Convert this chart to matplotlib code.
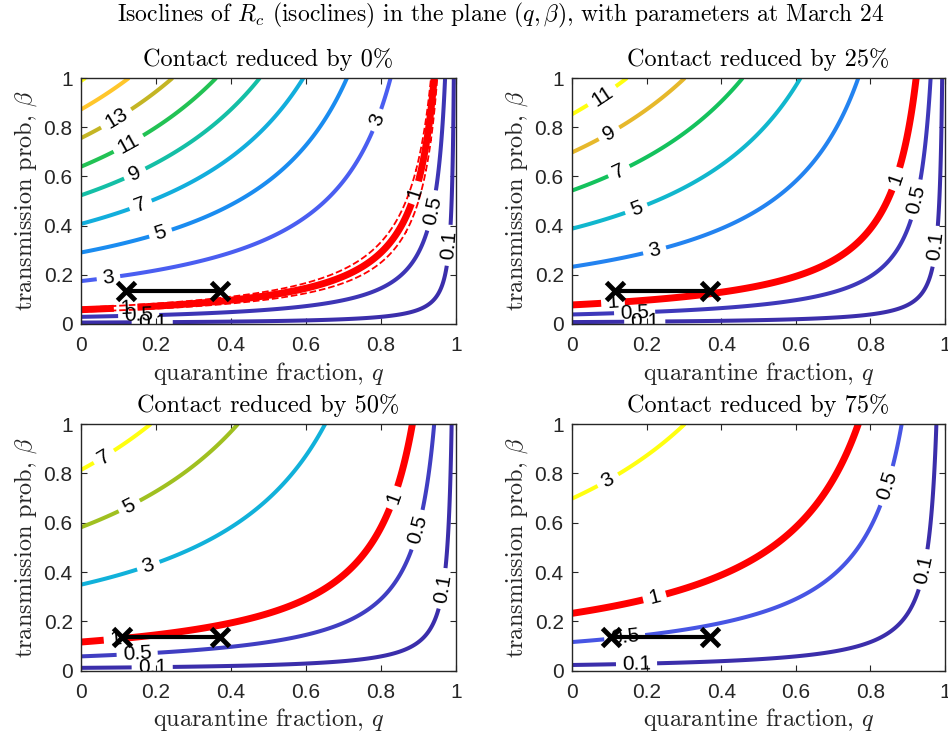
import numpy as np
import matplotlib.pyplot as plt
from matplotlib.colors import LinearSegmentedColormap

plt.rcParams['mathtext.fontset'] = 'cm'
plt.rcParams['font.family'] = ['Liberation Sans', 'DejaVu Sans']

# ---- data ----
reduction = [0, 25, 50, 75]            # contact reduction in %
contact = [1.0, 0.75, 0.5, 0.25]       # remaining contact fraction
R_scale = 17.2                         # R_c at q=0, beta=1, no reduction
R_scale_lo = 15.0                      # dashed bounds of R_c = 1 (first panel)
R_scale_hi = 20.0
levels_all = [0.1, 0.5, 1, 3, 5, 7, 9, 11, 13, 15, 17]

# current estimate segment (q range, beta)
seg_q = [[0.12, 0.37], [0.115, 0.37], [0.11, 0.37], [0.105, 0.37]]
seg_beta = [0.135, 0.135]

# where the contour labels sit (q, beta)
label_pos = [
    [(0.096, 0.83), (0.123, 0.743), (0.145, 0.607), (0.159, 0.485), (0.212, 0.37),
     (0.074, 0.18), (0.788, 0.83), (0.90, 0.53), (0.94, 0.46), (0.98, 0.32),
     (0.119, 0.07), (0.154, 0.03), (0.19, 0.005)],
    [(0.079, 0.93), (0.101, 0.77), (0.128, 0.614), (0.173, 0.465), (0.222, 0.295),
     (0.875, 0.587), (0.924, 0.505), (0.973, 0.316),
     (0.11, 0.08), (0.168, 0.038), (0.195, 0.004)],
    [(0.061, 0.868), (0.132, 0.658), (0.181, 0.42), (0.837, 0.70), (0.90, 0.57),
     (0.962, 0.334), (0.092, 0.13), (0.15, 0.064), (0.19, 0.01)],
    [(0.097, 0.77), (0.222, 0.294), (0.845, 0.749), (0.944, 0.41),
     (0.142, 0.125), (0.173, 0.023)],
]

# MATLAB-like colour ramp seen in the figure
ramp = LinearSegmentedColormap.from_list('ramp', [
    (0.00, '#3b2eab'), (0.17, '#4a5ef2'), (0.29, '#1a8cf0'), (0.43, '#10b4d8'),
    (0.53, '#14c0a4'), (0.64, '#14c25a'), (0.71, '#a0c020'), (0.77, '#c8b424'),
    (0.86, '#ffbb30'), (1.00, '#ffff10')])

positions = [[0.0854, 0.5598, 0.3956, 0.3342], [0.6034, 0.5598, 0.3935, 0.3342],
             [0.0854, 0.0887, 0.3956, 0.3352], [0.6034, 0.0887, 0.3935, 0.3352]]

q = np.linspace(0, 1, 1501)
b = np.linspace(0, 1, 1001)
Q, B = np.meshgrid(q, b)

serif = ['cmr10', 'DejaVu Serif']

fig = plt.figure(figsize=(9.48, 7.36), dpi=100)
fig.text(0.528, 1 - 15/736,
         r'Isoclines of $R_c$ (isoclines) in the plane $(q,\beta)$, with parameters at March 24',
         ha='center', va='center', fontsize=17, family=serif)

for k in range(4):
    ax = fig.add_axes(positions[k])
    Z = R_scale * contact[k] * B * (1 - Q)
    lev = [l for l in levels_all if l <= Z.max()]
    cols, lws = [], []
    for l in lev:
        if l == 1:
            cols.append('red'); lws.append(5.0)
        else:
            cols.append(ramp((l - lev[0]) / (lev[-1] - lev[0]))); lws.append(2.9)
    cs = ax.contour(Q, B, Z, levels=lev, colors=cols, linewidths=lws)
    ax.clabel(cs, fmt='%g', fontsize=15, colors='black', inline=True,
              inline_spacing=6, manual=label_pos[k])
    if k == 0:
        for rs in [R_scale_lo, R_scale_hi]:
            ax.contour(Q, B, rs * B * (1 - Q), levels=[1], colors='red',
                       linewidths=1.3, linestyles='--')
    ax.plot(seg_q[k], seg_beta, '-x', color='black', lw=3, ms=13, mew=3.5, zorder=5)

    ax.set_xlim(0, 1)
    ax.set_ylim(0, 1)
    ax.set_xticks(np.arange(0, 1.01, 0.2))
    ax.set_yticks(np.arange(0, 1.01, 0.2))
    ax.set_xticklabels(['0', '0.2', '0.4', '0.6', '0.8', '1'])
    ax.set_yticklabels(['0', '0.2', '0.4', '0.6', '0.8', '1'])
    ax.tick_params(direction='in', top=True, right=True, labelsize=15,
                   length=4, color='#262626', labelcolor='#262626')
    ax.tick_params(axis='x', pad=9)
    ax.tick_params(axis='y', pad=6)
    for s in ax.spines.values():
        s.set_linewidth(1.0)
        s.set_color('#262626')
    ax.set_title('Contact reduced by %d%%' % reduction[k], fontsize=17.5,
                 family=serif, pad=9)
    ax.set_xlabel(r'quarantine fraction, $q$', fontsize=17.5, color='#262626',
                  family=serif, labelpad=3)
    ax.set_ylabel(r'transmission prob, $\beta$', fontsize=17.5, color='#262626',
                  family=serif, labelpad=3)

plt.savefig('out.png', dpi=100)
